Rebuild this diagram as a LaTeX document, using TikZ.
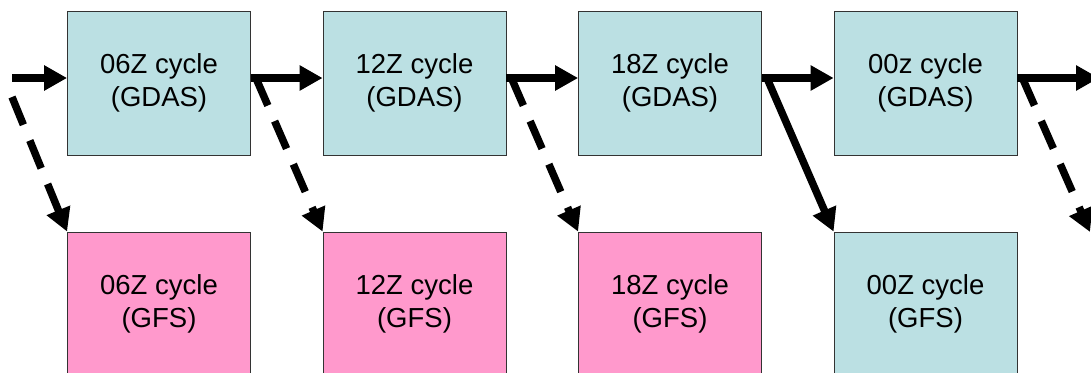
\documentclass[tikz,border=0pt]{standalone}
\usepackage{fontspec}
\setmainfont{Liberation Sans}
\usetikzlibrary{arrows.meta}
\definecolor{gdasblue}{RGB}{187,224,227}
\definecolor{gfspink}{RGB}{255,153,204}

\begin{document}
\begin{tikzpicture}[
    x=1pt, y=-1pt,
    cycle/.style={draw=black!80, line width=0.8pt, minimum width=183pt, minimum height=144pt,
                  inner sep=0pt, align=center, font=\fontsize{27.5}{33}\selectfont},
    gdas/.style={cycle, fill=gdasblue},
    gfs/.style={cycle, fill=gfspink},
    flow/.style={line width=7.5pt, -{Triangle[length=23pt 0 0, width=24pt 0 0]}},
    fcst/.style={flow, dash pattern=on 30pt off 17pt},
]
\useasboundingbox (0,0) rectangle (1091,372);
\clip (0,0) rectangle (1091,372);

\node[gdas] (g06) at (159,83)   {06Z cycle\\(GDAS)};
\node[gdas] (g12) at (414.5,83) {12Z cycle\\(GDAS)};
\node[gdas] (g18) at (670,83)   {18Z cycle\\(GDAS)};
\node[gdas] (g00) at (925.5,83) {00z cycle\\(GDAS)};

\node[gfs]  (f06) at (159,304)   {06Z cycle\\(GFS)};
\node[gfs]  (f12) at (414.5,304) {12Z cycle\\(GFS)};
\node[gfs]  (f18) at (670,304)   {18Z cycle\\(GFS)};
\node[gdas] (f00) at (925.5,304) {00Z cycle\\(GFS)};

\coordinate (in)   at (12,78);
\coordinate (inf)  at (12,97);
\coordinate (out)  at (1099,78);
\coordinate (outf) at (1090,232);

% analysis chain
\draw[flow] (in) -- ([yshift=5pt]g06.west);
\draw[flow] ([yshift=5pt]g06.east) -- ([yshift=5pt]g12.west);
\draw[flow] ([yshift=5pt]g12.east) -- ([yshift=5pt]g18.west);
\draw[flow] ([yshift=5pt]g18.east) -- ([yshift=5pt]g00.west);
\draw[flow] ([yshift=5pt]g00.east) -- (out);

% forecasts
\draw[fcst] (inf) -- (f06.north west);
\draw[fcst] ([xshift=5pt,yshift=5pt]g06.east) -- (f12.north west);
\draw[fcst] ([xshift=5pt,yshift=5pt]g12.east) -- (f18.north west);
\draw[flow] ([xshift=5pt,yshift=5pt]g18.east) -- (f00.north west);
\draw[fcst] ([xshift=5pt,yshift=5pt]g00.east) -- (outf);
\end{tikzpicture}
\end{document}
